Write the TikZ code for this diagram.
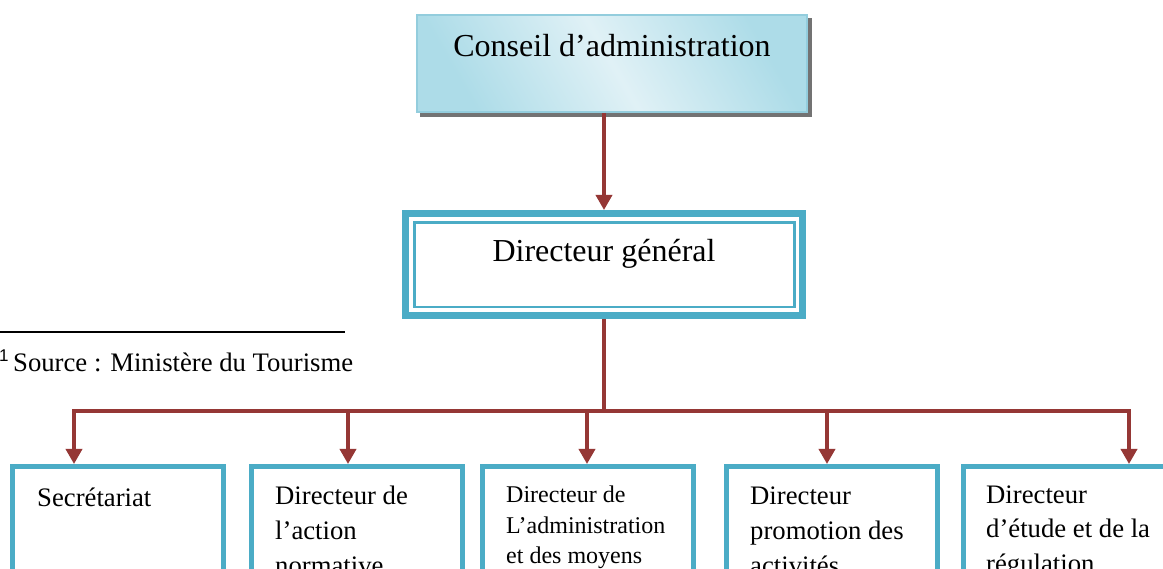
\documentclass[tikz,border=0pt]{standalone}
\usepackage{fontspec}
\setmainfont{Liberation Serif}
\newfontfamily\notefont{Liberation Sans}
\usetikzlibrary{arrows.meta,calc}

\definecolor{linkred}{HTML}{953735}
\definecolor{teal}{HTML}{4BACC6}
\definecolor{paleblue}{HTML}{93CDDD}
\definecolor{skydark}{HTML}{ADDCE8}
\definecolor{skylight}{HTML}{E0F1F6}

\tikzset{
  link/.style={draw=linkred, line width=3.5pt},
  linkarrow/.style={link, -{Triangle[width=16pt,length=15pt]}},
  unitbox/.style={draw=teal, line width=5pt, fill=white, rectangle,
    minimum width=211pt, minimum height=200pt, anchor=north west, inner sep=0pt},
  boxtext/.style={anchor=base west, inner sep=0pt, font=\fontsize{26.7}{35}\selectfont},
  smalltext/.style={anchor=base west, inner sep=0pt, font=\fontsize{24}{31}\selectfont},
  titletext/.style={anchor=base, inner sep=0pt, font=\fontsize{32}{38}\selectfont},
}

\begin{document}
\begin{tikzpicture}[x=1pt, y=-1pt]
  \useasboundingbox (0,0) rectangle (1163,569);
  \clip (0,0) rectangle (1163,569);
  \fill[white] (0,0) rectangle (1163,569);

  % board of directors, with its drop shadow
  \fill[black!55] (420,18) rectangle (812,117);
  \node[rectangle, draw=paleblue, line width=2pt, minimum width=390pt, minimum height=97pt,
        shading=axis, top color=skydark, bottom color=skydark, middle color=skylight,
        shading angle=-60, inner sep=0pt] (ca) at (612,63.5) {};
  \node[titletext] (catext) at (612,57) {Conseil d’administration};

  % director general: thick frame with a thin inner line
  \node[rectangle, draw=teal, line width=7pt, fill=white, minimum width=397pt,
        minimum height=102pt, inner sep=0pt] (dg) at (604,264.5) {};
  \draw[teal, line width=2.5pt] ($(dg.north west)+(12.3,12.5)$) rectangle ($(dg.south east)+(-11.5,-12)$);
  \node[titletext] (dgtext) at (604,262) {Directeur général};

  % footnote
  \draw[black, line width=1.5pt] (0,332) -- (345,332);
  \node[anchor=base west, inner sep=0pt, font=\notefont\fontsize{17}{19}\selectfont] (fnmark) at (-1,362) {1};
  \node[boxtext] (fntext) at (13,372) {Source : Ministère du Tourisme};

  % departments
  \node[unitbox] (b1) at (10,464) {};
  \node[unitbox] (b2) at (249,464) {};
  \node[unitbox] (b3) at (480,464) {};
  \node[unitbox] (b4) at (724,464) {};
  \node[unitbox] (b5) at (961,464) {};

  \node[boxtext] (t1) at (37,507) {\parbox[t]{180pt}{Secrétariat}};
  \node[boxtext] (t2) at (275,504) {\parbox[t]{180pt}{Directeur de\\ l’action\\ normative}};
  \node[smalltext] (t3) at (506,502) {\parbox[t]{185pt}{Directeur de\\ L’administration\\ et des moyens}};
  \node[boxtext] (t4) at (750,504) {\parbox[t]{180pt}{Directeur\\ promotion des\\ activités}};
  \node[boxtext] (t5) at (986,503) {\parbox[t]{180pt}{Directeur\\ d’étude et de la\\ régulation}};

  % connectors
  \coordinate (busmid) at (604,411);
  \coordinate (p1) at (74,411);
  \coordinate (p2) at (348,411);
  \coordinate (p3) at (587,411);
  \coordinate (p4) at (827,411);
  \coordinate (p5) at (1129,411);

  \draw[linkarrow] (ca.south -| dg.north) -- (dg.north);
  \draw[link] (dg.south) -- (busmid);
  \draw[link, line cap=rect] (p1) -- (p5);
  \draw[linkarrow] (p1) -- (p1 |- b1.north);
  \draw[linkarrow] (p2) -- (p2 |- b2.north);
  \draw[linkarrow] (p3) -- (p3 |- b3.north);
  \draw[linkarrow] (p4) -- (p4 |- b4.north);
  \draw[linkarrow] (p5) -- (p5 |- b5.north);
\end{tikzpicture}
\end{document}
